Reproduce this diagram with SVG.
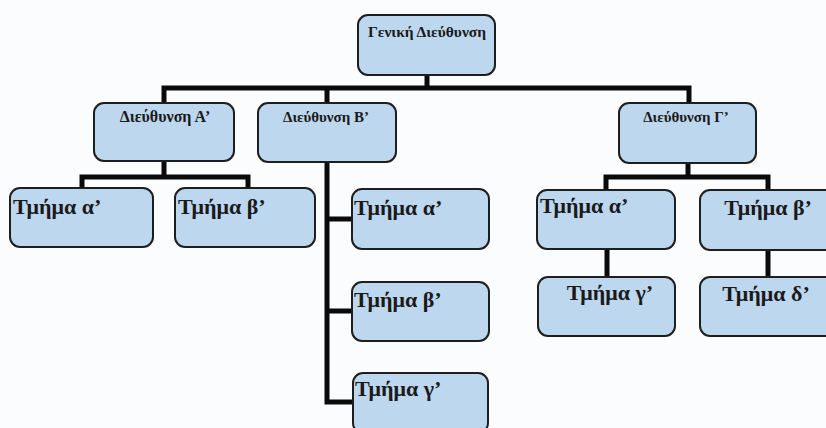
<svg xmlns="http://www.w3.org/2000/svg" width="826" height="428" viewBox="0 0 826 428">
<style>
.box{fill:#bdd7ef;stroke:#1e1e1e;stroke-width:2}
.c{fill:none;stroke:#0a0a0a;stroke-width:5;stroke-linejoin:miter}
.s{font-family:"Liberation Serif","Times New Roman",serif;font-weight:bold;font-size:15px;fill:#1a1a1a;text-anchor:middle}
.b{font-family:"Liberation Serif","Times New Roman",serif;font-weight:bold;font-size:22px;fill:#1a1a1a}
.m{text-anchor:middle}
</style>
<rect width="826" height="428" fill="#fbfcfd"/>
<g id="connectors">
<path class="c" d="M427,75 V88"/>
<path class="c" d="M164,103 V88 H689 V103"/>
<path class="c" d="M327,88 V103"/>
<path class="c" d="M164,161 V177"/>
<path class="c" d="M82,188 V177 H248 V188"/>
<path class="c" d="M327,162 V402 H353"/>
<path class="c" d="M327,219 H352"/>
<path class="c" d="M327,311 H352"/>
<path class="c" d="M688,163 V177"/>
<path class="c" d="M606,190 V177 H768 V190"/>
<path class="c" d="M607,249 V277"/>
<path class="c" d="M768,250 V277"/>
</g>
<g id="root"><rect class="box" x="358" y="15" width="137" height="60" rx="10"/><text class="s" x="427" y="37" style="font-size:15.5px">Γενική Διεύθυνση</text></g>
<g id="dirA"><rect class="box" x="94" y="103" width="140" height="58" rx="10"/><text class="s" x="165" y="122" style="font-size:16px">Διεύθυνση Α’</text></g>
<g id="dirB"><rect class="box" x="258" y="103" width="138" height="59" rx="10"/><text class="s" x="326" y="122">Διεύθυνση Β’</text></g>
<g id="dirC"><rect class="box" x="619" y="103" width="137" height="60" rx="10"/><text class="s" x="686" y="122">Διεύθυνση Γ’</text></g>
<g id="A-a"><rect class="box" x="10" y="188" width="143" height="59" rx="10"/><text class="b" x="13" y="214">Τμήμα α’</text></g>
<g id="A-b"><rect class="box" x="175" y="188" width="140" height="59" rx="10"/><text class="b" x="178" y="214">Τμήμα β’</text></g>
<g id="B-a"><rect class="box" x="352" y="189" width="137" height="60" rx="10"/><text class="b" x="354" y="215">Τμήμα α’</text></g>
<g id="B-b"><rect class="box" x="352" y="282" width="137" height="59" rx="10"/><text class="b" x="354" y="307">Τμήμα β’</text></g>
<g id="B-c"><rect class="box" x="353" y="373" width="135" height="60" rx="10"/><text class="b" x="355" y="396">Τμήμα γ’</text></g>
<g id="C-a"><rect class="box" x="537" y="190" width="138" height="59" rx="10"/><text class="b" x="540" y="213">Τμήμα α’</text></g>
<g id="C-b"><rect class="box" x="700" y="190" width="138" height="60" rx="10"/><text class="b m" x="768" y="215">Τμήμα β’</text></g>
<g id="C-c"><rect class="box" x="538" y="277" width="137" height="59" rx="10"/><text class="b m" x="610" y="300">Τμήμα γ’</text></g>
<g id="C-d"><rect class="box" x="700" y="277" width="138" height="59" rx="10"/><text class="b m" x="766" y="301">Τμήμα δ’</text></g>
</svg>
